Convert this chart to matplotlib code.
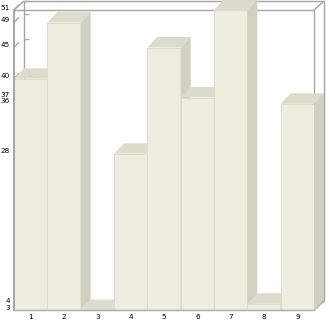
import matplotlib
matplotlib.use('Agg')
import matplotlib.pyplot as plt
from matplotlib.patches import Polygon
import matplotlib.transforms as mtrans

categories = ['1', '2', '3', '4', '5', '6', '7', '8', '9']
values = [40, 49, 3, 28, 45, 37, 51, 4, 36]
ytick_values = sorted(set(values))
ytick_labels = [str(v) for v in ytick_values]

W, H, DPI = 326, 321, 100
fig = plt.figure(figsize=(W / DPI, H / DPI), dpi=DPI, facecolor='white')
# front plane in pixels
PX_L, PX_B, PX_W, PX_H = 14, 11, 300, 300
ax = fig.add_axes([PX_L / W, PX_B / H, PX_W / W, PX_H / H])
ax.set_facecolor('none')

n = len(categories)
xs = list(range(1, n + 1))
ymin, ymax = min(values), max(values)
ax.set_xlim(0.5, n + 0.5)
ax.set_ylim(ymin, ymax)
for s in ax.spines.values():
    s.set_visible(False)

# depth (pixels -> data units)
ux = n / PX_W
uy = (ymax - ymin) / PX_H
box_dx, box_dy = 10 * ux, 9 * uy
bar_dx, bar_dy = 10 * ux, 10.5 * uy

FRONT = '#EDEDE0'
TOP = '#DCDCCC'
SIDE = '#D1D1C1'
EDGE = '#DDDDCF'
BOX = '#A4A4A4'

x0, x1 = 0.5, n + 0.5
kw = dict(color=BOX, lw=1.0, clip_on=False, solid_capstyle='butt')
# back box (behind bars)
ax.plot([x0 + box_dx, x1 + box_dx], [ymax + box_dy, ymax + box_dy], zorder=1, **kw)
ax.plot([x1 + box_dx, x1 + box_dx], [ymin + box_dy, ymax + box_dy], zorder=1, **kw)
ax.plot([x0 + box_dx, x0 + box_dx], [ymin + box_dy, ymax + box_dy], zorder=1, **kw)
ax.plot([x0 + box_dx, x1 + box_dx], [ymin + box_dy, ymin + box_dy], zorder=1, **kw)
# diagonals
ax.plot([x0, x0 + box_dx], [ymax, ymax + box_dy], zorder=1, **kw)
ax.plot([x1, x1 + box_dx], [ymax, ymax + box_dy], zorder=1, **kw)
ax.plot([x1, x1 + box_dx], [ymin, ymin + box_dy], zorder=1, **kw)
# front top and right
ax.plot([x0, x1], [ymax, ymax], zorder=1, **kw)
ax.plot([x1, x1], [ymin, ymax], zorder=1, **kw)

# wall ticks
tick_kw = dict(color='#AAAAAA', lw=1.0, clip_on=False, solid_capstyle='butt', zorder=1.5)
for v in ytick_values:
    ax.plot([x0, x0 + box_dx * 0.5], [v, v + box_dy * 0.6], **tick_kw)
    ax.plot([x0 + box_dx, x0 + box_dx * 1.5], [v + box_dy, v + box_dy], **tick_kw)

# bars
for i, (x, v) in enumerate(zip(xs, values)):
    z = 3 + i * 0.1
    ax.bar([x], [v - ymin], bottom=ymin, width=1.0, color=FRONT,
           edgecolor=EDGE, linewidth=0.8, zorder=z, clip_on=False)
    top = Polygon([(x - 0.5, v), (x + 0.5, v), (x + 0.5 + bar_dx, v + bar_dy),
                   (x - 0.5 + bar_dx, v + bar_dy)], closed=True, facecolor=TOP,
                  edgecolor='none', zorder=z + 0.05, clip_on=False)
    side = Polygon([(x + 0.5, ymin), (x + 0.5, v), (x + 0.5 + bar_dx, v + bar_dy),
                    (x + 0.5 + bar_dx, ymin + bar_dy)], closed=True, facecolor=SIDE,
                   edgecolor='none', zorder=z + 0.05, clip_on=False)
    ax.add_patch(top)
    ax.add_patch(side)

# front left axis and bottom line over bars
ax.plot([x0, x0], [ymin, ymax], color='#999999', lw=1.2, clip_on=False, zorder=10)
ax.plot([x0, x1], [ymin, ymin], color='#AAAAAA', lw=1.0, clip_on=False, zorder=10)

ax.set_xticks(xs, categories)
ax.set_yticks(ytick_values, ytick_labels)
ax.tick_params(axis='both', length=0, labelsize=5.2, colors='black')
ax.tick_params(axis='x', pad=3)
ax.tick_params(axis='y', pad=3)
off = mtrans.ScaledTranslation(0, 3 / DPI, fig.dpi_scale_trans)
for lab in ax.get_yticklabels():
    lab.set_transform(lab.get_transform() + off)

fig.savefig('out.png', dpi=DPI, facecolor='white')
